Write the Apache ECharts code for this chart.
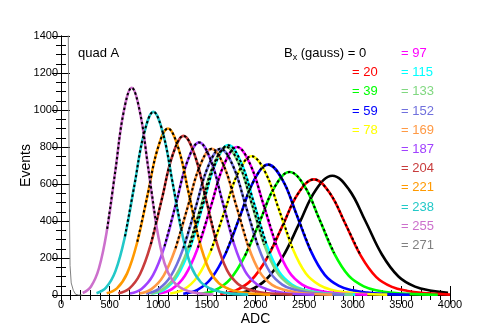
<!DOCTYPE html>
<html>
<head>
<meta charset="utf-8">
<script src="https://cdn.jsdelivr.net/npm/echarts@6/dist/echarts.min.js"></script>
<style>
  html, body { margin: 0; padding: 0; background: #fff; }
  #main { width: 480px; height: 327px; }
</style>
</head>
<body>
<div id="main"></div>
<script>
// B_x field values (gauss) for each histogram
const fieldGauss = [0, 20, 39, 59, 78, 97, 115, 133, 152, 169, 187, 204, 221, 238, 255, 271];

// histogram shapes: [ADC, events]
const b0 = [[1770, 6], [1940, 26], [2110, 84], [2280, 206], [2450, 387], [2620, 568], [2790, 645], [2960, 571], [3130, 400], [3300, 219], [3470, 100], [3640, 45], [3810, 23], [3980, 12]];
const b20 = [[1637, 6], [1798, 25], [1958, 81], [2119, 200], [2279, 375], [2440, 550], [2600, 625], [2761, 553], [2921, 388], [3082, 213], [3242, 97], [3403, 44], [3563, 22], [3724, 11], [3884, 6], [4000, 2]];
const b39 = [[1435, 7], [1588, 27], [1740, 86], [1893, 213], [2045, 399], [2198, 585], [2350, 665], [2503, 589], [2655, 412], [2808, 226], [2960, 103], [3113, 47], [3265, 23], [3418, 12], [3570, 6], [3875, 1]];
const b59 = [[1257, 7], [1403, 28], [1548, 92], [1694, 226], [1839, 423], [1985, 620], [2130, 705], [2276, 624], [2421, 437], [2567, 240], [2712, 109], [2858, 49], [3003, 25], [3149, 13], [3294, 6], [3585, 1]];
const b78 = [[1123, 8], [1263, 30], [1402, 98], [1542, 240], [1681, 450], [1821, 660], [1960, 750], [2100, 664], [2239, 465], [2379, 255], [2518, 116], [2658, 53], [2797, 26], [2937, 14], [3076, 7], [3355, 2]];
const b97 = [[1006, 8], [1140, 32], [1274, 104], [1408, 256], [1542, 480], [1676, 704], [1810, 800], [1944, 708], [2078, 496], [2212, 272], [2346, 124], [2480, 56], [2614, 28], [2748, 14], [2882, 7], [3150, 2]];
const b115 = [[937, 8], [1068, 32], [1198, 105], [1329, 259], [1459, 486], [1590, 713], [1720, 810], [1851, 717], [1981, 502], [2112, 275], [2242, 126], [2373, 57], [2503, 28], [2634, 15], [2764, 7], [3025, 2]];
const b133 = [[920, 8], [1050, 32], [1180, 104], [1310, 256], [1440, 480], [1570, 704], [1700, 800], [1830, 708], [1960, 496], [2090, 272], [2220, 124], [2350, 56], [2480, 28], [2610, 14], [2740, 7], [3000, 2]];
const b152 = [[875, 8], [1003, 32], [1130, 103], [1258, 253], [1385, 474], [1513, 695], [1640, 790], [1768, 699], [1895, 490], [2023, 269], [2150, 122], [2278, 55], [2405, 28], [2533, 14], [2660, 7], [2915, 2]];
const b169 = [[806, 8], [930, 32], [1054, 103], [1178, 253], [1302, 474], [1426, 695], [1550, 790], [1674, 699], [1798, 490], [1922, 269], [2046, 122], [2170, 55], [2294, 28], [2418, 14], [2542, 7], [2790, 2]];
const b187 = [[709, 8], [828, 33], [946, 107], [1065, 264], [1183, 495], [1302, 726], [1420, 825], [1539, 730], [1657, 512], [1776, 281], [1894, 128], [2013, 58], [2131, 29], [2250, 15], [2368, 7], [2605, 2]];
const b204 = [[588, 9], [700, 34], [812, 112], [924, 275], [1036, 516], [1148, 757], [1260, 860], [1372, 761], [1484, 533], [1596, 292], [1708, 133], [1820, 60], [1932, 30], [2044, 15], [2156, 8], [2380, 2]];
const b221 = [[470, 9], [575, 36], [680, 117], [785, 288], [890, 540], [995, 792], [1100, 900], [1205, 797], [1310, 558], [1415, 306], [1520, 140], [1625, 63], [1730, 32], [1835, 16], [1940, 8], [2150, 2]];
const b238 = [[365, 10], [463, 40], [560, 129], [658, 317], [755, 594], [853, 871], [950, 990], [1048, 876], [1145, 614], [1243, 337], [1340, 153], [1438, 69], [1535, 35], [1633, 18], [1730, 9], [1925, 2]];
const b255 = [[223, 11], [307, 45], [391, 146], [475, 358], [559, 672], [643, 986], [727, 1120], [811, 991], [895, 694], [979, 381], [1063, 174], [1147, 78], [1231, 39], [1315, 20], [1399, 10], [1567, 2]];
const b271 = [[15, 3200], [40, 2800], [60, 2100], [75, 1400], [82, 800], [88, 400], [93, 160], [105, 65], [127, 25], [150, 4], [180, 0], [220, 0]];

const histograms = [b0, b20, b39, b59, b78, b97, b115, b133, b152, b169, b187, b204, b221, b238, b255, b271];

const xTicks = { min: 0, max: 4000, step: 500 };
const yTicks = { min: 0, max: 1400, step: 200 };

const colors = ["#000000", "#ff0000", "#00ff00", "#0000ff", "#ffff00", "#ff00ff", "#00ffff",
  "#80d880", "#7070dd", "#ff9944", "#a040ff", "#c83c3c", "#ff9900", "#22c8c8", "#cc70cc", "#808080"];

const font = "Liberation Sans, Arial, Helvetica, sans-serif";

let chart = echarts.init(document.getElementById("main"));

let series = [];
histograms.forEach(function (h, i) {
  series.push({
    type: "line",
    data: h,
    smooth: i === 15 ? false : 0.4,
    showSymbol: false,
    z: 2,
    lineStyle: { color: colors[i], width: i === 15 ? 1 : 2.6 },
    clip: true,
  });
});
// dashed fits over the peak region (not for 0 and 271)
histograms.forEach(function (h, i) {
  if (i === 0 || i === 15) return;
  series.push({
    type: "line",
    data: h.slice(3, 10),
    smooth: 0.4,
    showSymbol: false,
    z: 5,
    lineStyle: { color: "#000", width: 2, type: [2.5, 2.5] },
  });
});

// legend text built from field values
let graphics = [
  { type: "text", left: 78, top: 47, style: { text: "quad A", font: "13px " + font, fill: "#000" } },
  {
    type: "text", left: 284, top: 47,
    style: {
      text: "{b|B}{s|x}{b| (gauss) = " + fieldGauss[0] + "}",
      rich: { b: { font: "13px " + font, fill: "#000" }, s: { font: "9px " + font, fill: "#000", padding: [8, 0, 0, 0] } },
    },
  },
];
fieldGauss.forEach(function (g, i) {
  if (i === 0) return;
  let col = i < 5 ? 0 : 1;
  let row = i < 5 ? i : i - 5;
  graphics.push({
    type: "text",
    left: col === 0 ? 352 : 401,
    top: 47 + row * 19.2,
    style: { text: "= " + g, font: "13px " + font, fill: colors[i] },
  });
});

let plain = function (v) { return String(v); };

let tickCommon = {
  axisLine: { show: true, lineStyle: { color: "#000", width: 1 } },
  axisTick: { show: true, inside: true, length: 9, lineStyle: { color: "#000" } },
  splitLine: { show: false },
};

let option = {
  animation: false,
  backgroundColor: "#fff",
  grid: { left: 61, right: 30, top: 36, bottom: 32, containLabel: false, outerBoundsMode: "none" },
  xAxis: [
    Object.assign({
      type: "value", min: xTicks.min, max: xTicks.max, interval: xTicks.step,
      name: "ADC", nameLocation: "middle", nameGap: 17, nameMoveOverlap: false,
      nameTextStyle: { fontSize: 14, fontFamily: font, color: "#000" },
      axisLabel: { fontSize: 11, fontFamily: font, color: "#000", margin: 4, formatter: plain },
      minorTick: { show: true, splitNumber: 5, length: 5, lineStyle: { color: "#000" } },
    }, tickCommon),
    Object.assign({
      type: "value", position: "top", min: xTicks.min, max: xTicks.max, interval: xTicks.step,
      axisLabel: { show: false },
      minorTick: { show: true, splitNumber: 5, length: 5, lineStyle: { color: "#000" } },
    }, tickCommon),
  ],
  yAxis: [
    Object.assign({
      type: "value", min: yTicks.min, max: yTicks.max, interval: yTicks.step,
      name: "Events", nameLocation: "middle", nameGap: 28, nameMoveOverlap: false,
      nameTextStyle: { fontSize: 14, fontFamily: font, color: "#000" },
      axisLabel: { fontSize: 11, fontFamily: font, color: "#000", margin: 3, formatter: plain },
      minorTick: { show: true, splitNumber: 4, length: 5, lineStyle: { color: "#000" } },
    }, tickCommon),
    Object.assign({
      type: "value", position: "right", min: yTicks.min, max: yTicks.max, interval: yTicks.step,
      axisLabel: { show: false },
      minorTick: { show: true, splitNumber: 4, length: 5, lineStyle: { color: "#000" } },
    }, tickCommon),
  ],
  graphic: graphics,
  series: series,
};

chart.setOption(option);
</script>
</body>
</html>
